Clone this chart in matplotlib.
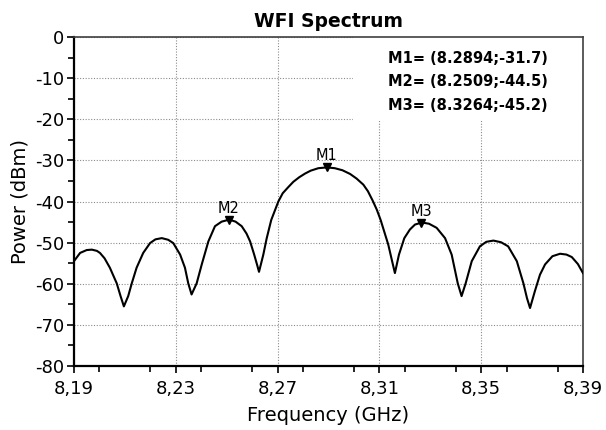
import matplotlib
matplotlib.use("Agg")
import matplotlib.pyplot as plt
from matplotlib.patches import Rectangle
from matplotlib.ticker import MultipleLocator, FuncFormatter

plt.rcParams["font.family"] = ["DejaVu Sans"]

# spectrum (GHz, dBm)
freq = [
    8.1900, 8.1924, 8.1950, 8.1970, 8.1990, 8.2002, 8.2020, 8.2041, 8.2068, 8.2083,
    8.2096, 8.2113, 8.2127, 8.2146, 8.2172, 8.2199, 8.2220, 8.2245, 8.2270, 8.2290,
    8.2317, 8.2336, 8.2349, 8.2362, 8.2382, 8.2402, 8.2428, 8.2454, 8.2480, 8.2510,
    8.2535, 8.2559, 8.2578, 8.2592, 8.2608, 8.2620, 8.2627, 8.2644, 8.2657, 8.2675,
    8.2703, 8.2720, 8.2742, 8.2762, 8.2785, 8.2808, 8.2830, 8.2860, 8.2894, 8.2925,
    8.2955, 8.2985, 8.3010, 8.3037, 8.3055, 8.3073, 8.3090, 8.3105, 8.3120, 8.3135,
    8.3150, 8.3161, 8.3177, 8.3198, 8.3220, 8.3240, 8.3267, 8.3295, 8.3325, 8.3358,
    8.3384, 8.3408, 8.3423, 8.3439, 8.3463, 8.3495, 8.3520, 8.3548, 8.3578, 8.3606,
    8.3640, 8.3666, 8.3680, 8.3692, 8.3711, 8.3731, 8.3751, 8.3780, 8.3810, 8.3835,
    8.3856, 8.3880, 8.3900,
]
power = [
    -54.5, -52.5, -51.8, -51.7, -52.0, -52.5, -53.8, -56.1, -59.9, -63.0,
    -65.5, -63.0, -59.9, -56.1, -52.5, -50.1, -49.2, -48.9, -49.3, -50.1,
    -52.9, -56.1, -59.9, -62.6, -59.9, -55.3, -49.7, -46.0, -44.9, -44.4,
    -44.9, -46.0, -47.8, -49.7, -52.9, -55.5, -57.1, -52.9, -49.0, -44.5,
    -40.0, -38.0, -36.5, -35.2, -34.1, -33.2, -32.5, -31.9, -31.7, -31.9,
    -32.4, -33.3, -34.4, -35.9, -37.5, -39.7, -42.0, -44.5, -47.5, -50.5,
    -54.5, -57.4, -52.9, -48.9, -46.8, -45.6, -45.1, -45.4, -46.4, -48.9,
    -52.9, -59.9, -63.0, -59.9, -54.5, -50.9, -49.8, -49.5, -49.9, -50.9,
    -54.5, -59.9, -63.5, -65.9, -61.8, -57.8, -55.3, -53.3, -52.7, -52.9,
    -53.5, -55.2, -57.4,
]

marker_names = ["M1", "M2", "M3"]
marker_freq = [8.2894, 8.2509, 8.3264]
marker_power = [-31.7, -44.5, -45.2]

x_ticks = [8.19, 8.23, 8.27, 8.31, 8.35, 8.39]
y_ticks = [0, -10, -20, -30, -40, -50, -60, -70, -80]

fig = plt.figure(figsize=(6.06, 4.30), dpi=100)
ax = fig.add_axes([0.1221, 0.1488, 0.8399, 0.7651])

ax.plot(freq, power, color="black", linewidth=1.5, zorder=3)
ax.plot(marker_freq, marker_power, linestyle="none", marker="v",
        color="black", markersize=6, zorder=4)
for name, f, p in zip(marker_names, marker_freq, marker_power):
    ax.annotate(name, (f, p), xytext=(0, 3), textcoords="offset points",
                ha="center", va="bottom", fontsize=10.5, zorder=5)

ax.set_xlim(8.19, 8.39)
ax.set_ylim(-80, 0)
ax.set_xticks(x_ticks)
ax.set_yticks(y_ticks)
ax.xaxis.set_minor_locator(MultipleLocator(0.02))
ax.yaxis.set_minor_locator(MultipleLocator(5))
ax.xaxis.set_major_formatter(FuncFormatter(lambda v, _: f"{v:.2f}".replace(".", ",")))
ax.yaxis.set_major_formatter(FuncFormatter(lambda v, _: f"{v:.0f}"))
ax.tick_params(which="major", direction="out", length=5, width=1.2, labelsize=13,
               top=False, right=False)
ax.tick_params(axis="x", which="major", pad=5)
ax.tick_params(axis="y", which="major", pad=2)
ax.tick_params(which="minor", direction="out", length=4, width=1.2,
               top=False, right=False)

ax.set_axisbelow(True)
ax.grid(True, which="major", linestyle=(0, (1, 1.5)), color="#8c8c8c", linewidth=0.8)

for side in ("left", "bottom"):
    ax.spines[side].set_linewidth(1.6)
    ax.spines[side].set_color("black")
for side in ("top", "right"):
    ax.spines[side].set_linewidth(1.2)
    ax.spines[side].set_color("#404040")

# white panel behind the marker readout
ax.add_patch(Rectangle((0.548, 0.745), 0.45, 0.26, transform=ax.transAxes,
                       facecolor="white", edgecolor="none", zorder=1))
readout = [f"{n}= ({f:.4f};{p:.1f})" for n, f, p in zip(marker_names, marker_freq, marker_power)]
for i, line in enumerate(readout):
    ax.text(0.617, 0.936 - i * 0.0715, line, transform=ax.transAxes,
            ha="left", va="center", fontsize=10.5, fontweight="bold", zorder=5)

ax.set_title("WFI Spectrum", fontsize=13.5, fontweight="bold", pad=7)
ax.set_xlabel("Frequency (GHz)", fontsize=14, labelpad=6)
ax.set_ylabel("Power (dBm)", fontsize=14, labelpad=4)

fig.savefig("out.png", dpi=100)
